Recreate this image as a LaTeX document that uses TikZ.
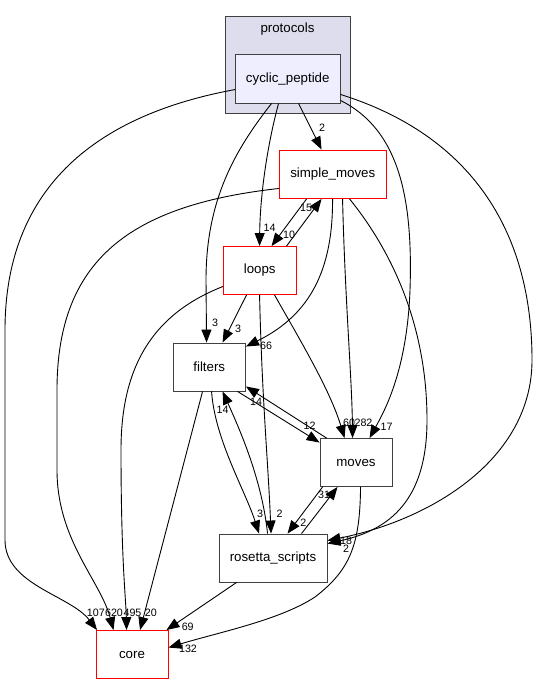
\documentclass[tikz,border=0pt]{standalone}
\usepackage{fontspec}
\setmainfont{Liberation Sans}
\usetikzlibrary{arrows.meta,calc}
\definecolor{clusterfill}{HTML}{DDDDEE}
\definecolor{nodefill}{HTML}{EEEEFF}
\definecolor{boxline}{HTML}{404040}
\begin{document}
\begin{tikzpicture}[x=1pt,y=-1pt,
  box/.style={draw=boxline, line width=0.9pt, inner sep=0pt, fill=white,
    font=\fontsize{13.3}{15}\selectfont},
  redbox/.style={box, draw=red},
  edge/.style={draw=black, line width=0.9pt, -{Triangle[length=13pt,width=10pt]}},
  lbl/.style={font=\fontsize{10.7}{12}\selectfont, inner sep=0pt}]
\useasboundingbox (0,0) rectangle (541,684);
\fill[white] (0,0) rectangle (541,684);

% cluster
\node[draw=boxline, fill=clusterfill, line width=0.9pt, inner sep=0pt,
      minimum width=125pt, minimum height=97pt] (protocols) at (287.5,64.5) {};
\node[font=\fontsize{13.3}{15}\selectfont, inner sep=0pt] (plabel) at (287.5,29) {protocols};

% nodes
\node[box, fill=nodefill, minimum width=104.5pt, minimum height=48.5pt] (cp) at (287.75,78.75) {cyclic\_peptide};
\node[redbox, minimum width=106.5pt, minimum height=48.5pt] (sm) at (332.75,174.25) {simple\_moves};
\node[redbox, minimum width=72.5pt, minimum height=48pt] (loops) at (259.75,270.5) {loops};
\node[box, minimum width=72.5pt, minimum height=48pt] (filters) at (209.25,367) {filters};
\node[box, minimum width=72pt, minimum height=48pt] (moves) at (356,462.5) {moves};
\node[box, minimum width=108pt, minimum height=48pt] (rs) at (273,558) {rosetta\_scripts};
\node[redbox, minimum width=72pt, minimum height=48pt] (core) at (132,654.5) {core};

% edges from cyclic_peptide
\draw[edge] ($(cp.north west)+(0,35.5)$) .. controls (70,120) and (5,210) .. (5,330)
  -- (5,540) .. controls (5,585) and (70,595) .. ($(core.north west)+(1.5,0)$);
\draw[edge] ($(cp.south west)+(36.5,0)$) .. controls (235,150) and (206,200) .. (206,280)
  -- ($(filters.north west)+(34,0)$);
\draw[edge] ($(cp.south west)+(43.5,0)$) .. controls (266,150) and (260,200) .. ($(loops.north west)+(36.5,0)$);
\draw[edge] ($(cp.south west)+(63.5,0)$) -- ($(sm.north west)+(42.5,0)$);
\draw[edge] ($(cp.south east)+(0,-3)$) .. controls (400,130) and (413,200) .. (410,290)
  .. controls (407,370) and (385,410) .. ($(moves.north west)+(50,0)$);
\draw[edge] ($(cp.south east)+(0,-9)$) .. controls (470,135) and (532,230) .. (532,360)
  .. controls (532,460) and (430,520) .. ($(rs.north east)+(0,7)$);

% edges from simple_moves
\draw[edge] ($(sm.south west)+(0,-10.5)$) .. controls (130,205) and (57,260) .. (57,390)
  -- (57,470) .. controls (57,540) and (100,580) .. ($(core.north west)+(18,0)$);
\draw[edge] ($(sm.south west)+(27.5,0)$) -- ($(loops.north west)+(48.5,0)$);
\draw[edge] ($(sm.south west)+(53.5,0)$) .. controls (333,270) and (310,315) .. ($(filters.north east)+(0,4)$);
\draw[edge] ($(sm.south west)+(63.5,0)$) .. controls (345,300) and (352,380) .. ($(moves.north west)+(33,0)$);
\draw[edge] ($(sm.south west)+(70.5,0)$) .. controls (395,255) and (427,330) .. (427,420)
  .. controls (427,500) and (390,530) .. ($(rs.north east)+(0,10)$);

% edges from loops
\draw[edge] ($(loops.north west)+(63.5,0)$) -- ($(sm.south west)+(42.5,0)$);
\draw[edge] ($(loops.south west)+(0,-8.5)$) .. controls (150,315) and (121,370) .. (121,450)
  .. controls (121,560) and (126,600) .. ($(core.north west)+(31,0)$);
\draw[edge] ($(loops.south west)+(23.5,0)$) -- ($(filters.north west)+(50,0)$);
\draw[edge] ($(loops.south west)+(36.5,0)$) .. controls (262,400) and (268,460) .. ($(rs.north west)+(52.5,0)$);
\draw[edge] ($(loops.south west)+(51.5,0)$) .. controls (300,340) and (330,390) .. ($(moves.north west)+(25,0)$);

% edges from filters
\draw[edge] ($(filters.south west)+(30,0)$) -- ($(core.north west)+(44.5,0)$);
\draw[edge] ($(filters.south west)+(39,0)$) .. controls (215,440) and (245,490) .. ($(rs.north west)+(40.5,0)$);
\draw[edge] ($(filters.south west)+(65,0)$) -- ($(moves.north west)+(0,4.5)$);

% edges from moves
\draw[edge] ($(moves.north west)+(7,0)$) -- ($(filters.south east)+(0,-5)$);
\draw[edge] ($(moves.south west)+(3,0)$) -- ($(rs.north west)+(69,0)$);
\draw[edge] ($(moves.south west)+(41,0)$) .. controls (360,545) and (350,570) .. (315,597)
  .. controls (280,620) and (220,632) .. ($(core.north east)+(0,17.5)$);

% edges from rosetta_scripts
\draw[edge] ($(rs.north west)+(49,0)$) .. controls (262,480) and (240,430) .. ($(filters.south west)+(50,0)$);
\draw[edge] ($(rs.north west)+(83,0)$) -- ($(moves.south west)+(18,0)$);
\draw[edge] ($(rs.south west)+(18,0)$) -- ($(core.north east)+(-2,0)$);

% labels
\node[lbl] (l1) at (322,127.5) {2};
\node[lbl] (l2) at (269.5,228) {14};
\node[lbl] (l3) at (215,322.5) {3};
\node[lbl] (l4) at (238,329) {3};
\node[lbl] (l5) at (266,346) {66};
\node[lbl] (l6) at (306,208) {15};
\node[lbl] (l7) at (289,234.5) {10};
\node[lbl] (l8) at (349,423) {60};
\node[lbl] (l9) at (363.5,423) {282};
\node[lbl] (l10) at (386.5,426.5) {17};
\node[lbl] (l11) at (309.5,426) {12};
\node[lbl] (l12) at (256,401.5) {14};
\node[lbl] (l13) at (222.5,410) {14};
\node[lbl] (l14) at (260,513.5) {3};
\node[lbl] (l15) at (279.7,513.5) {2};
\node[lbl] (l16) at (303.3,522.3) {2};
\node[lbl] (l17) at (324,495) {31};
\node[lbl] (l18) at (346,541) {18};
\node[lbl] (l19) at (346,549) {2};
\node[lbl] (l20) at (95.8,612.5) {107};
\node[lbl] (l21) at (114,612.5) {620};
\node[lbl] (l22) at (132.5,612.5) {495};
\node[lbl] (l23) at (150.8,612.5) {20};
\node[lbl] (l24) at (187.7,626.7) {69};
\node[lbl] (l25) at (188,649) {132};
\end{tikzpicture}
\end{document}
